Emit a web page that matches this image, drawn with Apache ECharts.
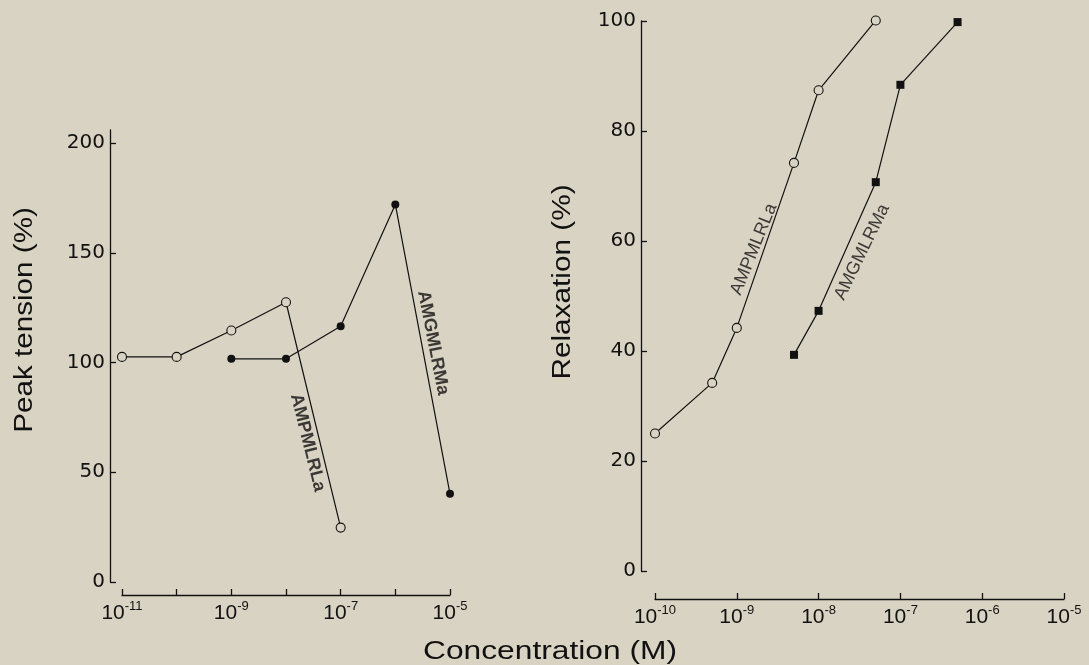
<!DOCTYPE html>
<html><head><meta charset="utf-8">
<script src="https://cdn.jsdelivr.net/npm/echarts@6/dist/echarts.min.js"></script>
<style>html,body{margin:0;padding:0;background:#d9d3c3}#c{width:1089px;height:665px}</style>
</head><body><div id="c"></div>
<script>
// ---- data ----
const leftConcA = [1e-11, 1e-10, 1e-9, 1e-8, 1e-7];
const leftAMPMLRLa = [102.6, 102.6, 114.6, 127.5, 24.8];
const leftConcB = [1e-9, 1e-8, 1e-7, 1e-6, 1e-5];
const leftAMGMLRMa = [101.7, 101.7, 116.6, 172.1, 40.2];
const rightConcA = [1e-10, 5e-10, 1e-9, 5e-9, 1e-8, 5e-8];
const rightAMPMLRLa = [25.0, 34.2, 44.2, 74.2, 87.4, 100.1];
const rightConcB = [5e-9, 1e-8, 5e-8, 1e-7, 5e-7];
const rightAMGMLRMa = [39.3, 47.3, 70.7, 88.4, 99.8];
const leftYTicks = [0, 50, 100, 150, 200];
const rightYTicks = [0, 20, 40, 60, 80, 100];
const leftXTicks = [1e-11, 1e-10, 1e-9, 1e-8, 1e-7, 1e-6, 1e-5];
const rightXTicks = [1e-10, 1e-9, 1e-8, 1e-7, 1e-6, 1e-5];
const seriesNames = ['AMPMLRLa', 'AMGMLRMa'];
const yTitles = ['Peak tension (%)', 'Relaxation (%)'];
const xTitle = 'Concentration (M)';

// ---- styling / layout ----
const BG = '#d9d3c3';
const INK = '#111';
const FONT = 'Liberation Sans';
const NUMFONT = 'DejaVu Sans';
const zip = (xs, ys) => xs.map((x, i) => [x, ys[i]]);

const supFmt = (showOdd) => (v) => {
  const e = Math.round(Math.log10(v));
  if (showOdd && Math.abs(e) % 2 === 0) return '';
  return '{b|10}{s|' + e + '}';
};
const xRich = {
  b: { fontSize: 21, fontFamily: FONT, color: INK, verticalAlign: 'bottom', lineHeight: 24 },
  s: { fontSize: 13, fontFamily: FONT, color: INK, verticalAlign: 'top', lineHeight: 24 }
};
const axisLine = { show: true, onZero: false, lineStyle: { color: INK, width: 1.3 } };

function xAx(gi, min, max, ticks, odd, offset) {
  return {
    type: 'log', logBase: 10, gridIndex: gi, min, max, position: 'bottom', offset,
    axisLine, splitLine: { show: false }, minorTick: { show: false },
    axisTick: { show: true, inside: true, length: 6, lineStyle: { color: INK, width: 1.3 }, customValues: ticks },
    axisLabel: { show: true, margin: 5, formatter: supFmt(odd), rich: xRich, customValues: ticks }
  };
}
function yAx(gi, min, max, ticks, offset) {
  return {
    type: 'value', gridIndex: gi, min, max, offset, position: 'left',
    axisLine, splitLine: { show: false },
    axisTick: { show: true, inside: true, length: 6, lineStyle: { color: INK, width: 1.3 }, customValues: ticks },
    axisLabel: { show: true, margin: 5, fontSize: 20, fontFamily: NUMFONT, color: INK, customValues: ticks }
  };
}
function lineSeries(xi, data, symbol, filled, size) {
  return {
    type: 'line', xAxisIndex: xi, yAxisIndex: xi, data, symbol, symbolSize: size,
    showAllSymbol: true, silent: true, animation: false, clip: false,
    lineStyle: { color: INK, width: 1.2 },
    itemStyle: filled ? { color: INK, borderColor: INK, borderWidth: 0 } : { color: BG, borderColor: INK, borderWidth: 1.1 }
  };
}
function labelSeries(xi, pt, text, rotate, size, weight) {
  return {
    type: 'scatter', xAxisIndex: xi, yAxisIndex: xi, data: [pt], symbolSize: 1, silent: true, animation: false,
    itemStyle: { color: 'rgba(0,0,0,0)' },
    label: { show: true, position: 'inside', formatter: text, rotate, fontSize: size, fontWeight: weight, fontFamily: FONT, color: INK }
  };
}

const chart = echarts.init(document.getElementById('c'), null, { renderer: 'canvas' });
chart.setOption({
  backgroundColor: BG,
  animation: false,
  grid: [
    { left: 122, right: 639, top: 130, bottom: 83 },
    { left: 655, right: 25, top: 21, bottom: 94 }
  ],
  xAxis: [
    xAx(0, 1e-11, 1e-5, leftXTicks, true, 13),
    xAx(1, 1e-10, 1e-5, rightXTicks, false, 28)
  ],
  yAxis: [
    yAx(0, 0, 206, leftYTicks, 12),
    yAx(1, 0, 100, rightYTicks, 14)
  ],
  series: [
    lineSeries(0, zip(leftConcA, leftAMPMLRLa), 'circle', false, 9),
    lineSeries(0, zip(leftConcB, leftAMGMLRMa), 'circle', true, 8),
    lineSeries(1, zip(rightConcA, rightAMPMLRLa), 'circle', false, 9),
    lineSeries(1, zip(rightConcB, rightAMGMLRMa), 'rect', true, 8),
    labelSeries(0, [2.5e-8, 63.5], seriesNames[0], -76, 18, 'bold'),
    labelSeries(0, [4.9e-6, 109], seriesNames[1], -79, 18, 'bold'),
    labelSeries(1, [1.62e-9, 58.5], seriesNames[0], 68, 18, 'normal'),
    labelSeries(1, [3.4e-8, 58], seriesNames[1], 64, 18, 'normal')
  ],
  graphic: [
    { type: 'text', x: 25, y: 320, rotation: Math.PI / 2, scaleX: 1.14, style: { text: yTitles[0], fontSize: 26, fontFamily: FONT, fill: INK, align: 'center', verticalAlign: 'middle' } },
    { type: 'text', x: 563, y: 282, rotation: Math.PI / 2, scaleX: 1.19, style: { text: yTitles[1], fontSize: 25, fontFamily: FONT, fill: INK, align: 'center', verticalAlign: 'middle' } },
    { type: 'text', x: 550, y: 652, scaleX: 1.27, style: { text: xTitle, fontSize: 25, fontFamily: FONT, fill: INK, align: 'center', verticalAlign: 'middle' } }
  ]
});
</script></body></html>
